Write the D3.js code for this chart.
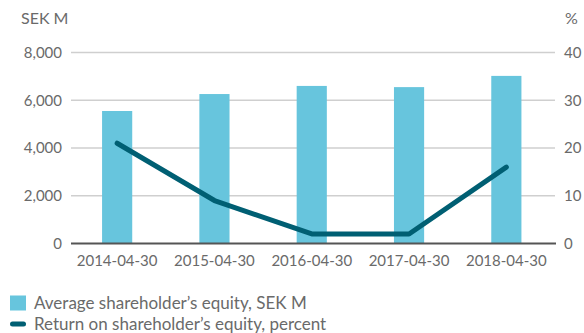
<!DOCTYPE html>
<html>
<head>
<meta charset="utf-8">
<script src="https://cdn.jsdelivr.net/npm/d3@7"></script>
<style>
  html, body { margin: 0; padding: 0; background: #fff; }
  svg { display: block; font-family: Lato, "Open Sans", sans-serif; }
</style>
</head>
<body>
<svg id="chart" width="584" height="333"></svg>
<script>
// Financial year end dates
const categories = ["2014-04-30", "2015-04-30", "2016-04-30", "2017-04-30", "2018-04-30"];
// Average shareholder's equity, SEK M
const equityValues = [5550, 6260, 6600, 6550, 7020];
// Return on shareholder's equity, percent
const returnValues = [21, 9, 2, 2, 16];
// Axis ticks
const leftTicks = [0, 2000, 4000, 6000, 8000];
const rightTicks = [0, 10, 20, 30, 40];
const legendLabels = ["Average shareholder\u2019s equity, SEK M", "Return on shareholder\u2019s equity, percent"];

const barColor = "#67c5dd";
const lineColor = "#005f73";
const textColor = "#6a6a6a";

const svg = d3.select("#chart");
const plotLeft = 71, plotRight = 555, plotTop = 52.5, plotBottom = 243.5;

const x = d3.scaleBand().domain(categories).range([68.5, 555]).paddingInner(0.69).paddingOuter(0.345);
const yLeft = d3.scaleLinear().domain([0, 8000]).range([plotBottom, plotTop]);
const yRight = d3.scaleLinear().domain([0, 40]).range([plotBottom, plotTop]);

// Gridlines
svg.append("g").selectAll("line").data(leftTicks.filter(d => d > 0)).join("line")
  .attr("x1", plotLeft).attr("x2", plotRight)
  .attr("y1", d => yLeft(d)).attr("y2", d => yLeft(d))
  .attr("stroke", "#cfcfcf").attr("stroke-width", 1.3);

// Left axis labels
const fmt = d3.format(",");
svg.append("g").selectAll("text").data(leftTicks).join("text")
  .attr("x", 62).attr("y", d => yLeft(d)).attr("dy", "0.35em")
  .attr("text-anchor", "end").attr("fill", textColor).attr("font-size", 15)
  .text(d => fmt(d));

// Right axis labels
svg.append("g").selectAll("text").data(rightTicks).join("text")
  .attr("x", 564).attr("y", d => yRight(d)).attr("dy", "0.35em")
  .attr("text-anchor", "start").attr("fill", textColor).attr("font-size", 15)
  .text(d => d);

// Unit titles
svg.append("text").attr("x", 21).attr("y", 24).attr("fill", textColor).attr("font-size", 16).text("SEK M");
svg.append("text").attr("x", 565).attr("y", 24).attr("fill", textColor).attr("font-size", 16).text("%");

// Bars
svg.append("g").selectAll("rect").data(equityValues).join("rect")
  .attr("x", (d, i) => x(categories[i]))
  .attr("width", x.bandwidth())
  .attr("y", d => yLeft(d))
  .attr("height", d => plotBottom - yLeft(d))
  .attr("fill", barColor);

// Baseline
svg.append("line").attr("x1", plotLeft).attr("x2", 556)
  .attr("y1", plotBottom).attr("y2", plotBottom)
  .attr("stroke", "#555").attr("stroke-width", 2);

// Category labels
svg.append("g").selectAll("text").data(categories).join("text")
  .attr("x", d => x(d) + x.bandwidth() / 2).attr("y", 266)
  .attr("text-anchor", "middle").attr("fill", textColor).attr("font-size", 15)
  .text(d => d);

// Return line
const line = d3.line()
  .x((d, i) => x(categories[i]) + x.bandwidth() / 2)
  .y(d => yRight(d));
svg.append("path").datum(returnValues)
  .attr("d", line).attr("fill", "none")
  .attr("stroke", lineColor).attr("stroke-width", 5)
  .attr("stroke-linecap", "round").attr("stroke-linejoin", "round");

// Legend
const legend = svg.append("g");
legend.append("rect").attr("x", 10).attr("y", 295.5).attr("width", 16).attr("height", 15).attr("fill", barColor);
legend.append("line").attr("x1", 12.5).attr("x2", 23.5).attr("y1", 324).attr("y2", 324)
  .attr("stroke", lineColor).attr("stroke-width", 5).attr("stroke-linecap", "round");
legend.selectAll("text").data(legendLabels).join("text")
  .attr("x", 34).attr("y", (d, i) => 309 + i * 21)
  .attr("fill", textColor).attr("font-size", 17)
  .text(d => d);
</script>
</body>
</html>
